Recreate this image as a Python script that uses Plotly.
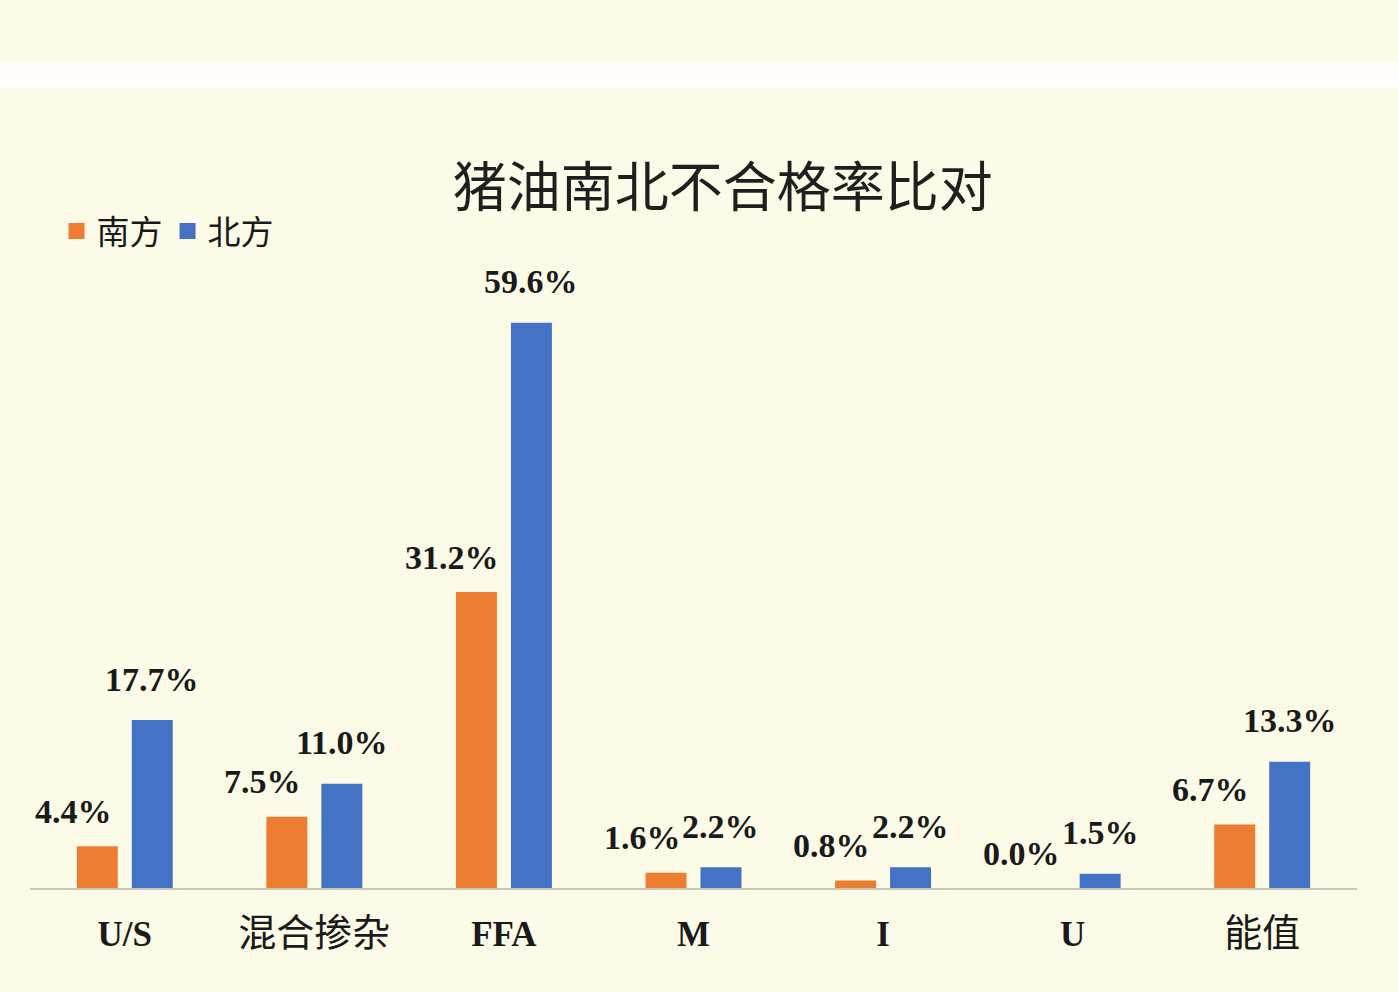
import plotly.graph_objects as go

categories = ["U/S", "混合掺杂", "FFA", "M", "I", "U", "能值"]
tick_labels = ["<b>U/S</b>", "<span style='font-size:38px'>混合掺杂</span>", "<b>FFA</b>",
               "<b>M</b>", "<b>I</b>", "<b>U</b>", "<span style='font-size:38px'>能值</span>"]
south = [4.4, 7.5, 31.2, 1.6, 0.8, 0.0, 6.7]
north = [17.7, 11.0, 59.6, 2.2, 2.2, 1.5, 13.3]
series_names = ["南方", "北方"]

ORANGE = "#ED7D31"
BLUE = "#4472C4"
BG = "#FCFBE8"
LABEL_FONT = "Liberation Serif, Times New Roman, Noto Sans CJK SC"
CJK_FONT = "Noto Sans CJK SC, Liberation Serif"

fig = go.Figure()
fig.add_trace(go.Bar(x=categories, y=south, name=series_names[0], showlegend=False,
                     marker=dict(color=ORANGE, line=dict(width=0))))
fig.add_trace(go.Bar(x=categories, y=north, name=series_names[1], showlegend=False,
                     marker=dict(color=BLUE, line=dict(width=0))))
# legend entries with larger square swatches
for name, col in zip(series_names, (ORANGE, BLUE)):
    fig.add_trace(go.Scatter(x=[None], y=[None], mode="markers", name=name,
                             marker=dict(symbol="square", size=20, color=col)))

# data labels
for vals, xs, ys, offset in ((south, -24, 35, -0.145), (north, 0, 41, 0.145)):
    for i, v in enumerate(vals):
        fig.add_annotation(x=i + offset, y=v, xref="x", yref="y",
                           text=f"<b>{v:.1f}%</b>", showarrow=False,
                           xshift=xs, yshift=ys, yanchor="middle",
                           font=dict(family=LABEL_FONT, size=34, color="#1a1a1a"))

fig.update_layout(
    width=1398, height=992,
    margin=dict(l=30, r=41, t=224, b=104, autoexpand=False),
    paper_bgcolor=BG, plot_bgcolor=BG,
    barmode="group", bargap=0.42, bargroupgap=0.255,
    showlegend=True,
    legend=dict(orientation="h", x=0.02, y=1 - 231 / 992, yref="container",
                yanchor="middle", xanchor="left", itemsizing="trace",
                font=dict(family=CJK_FONT, size=33, color="#1a1a1a"),
                bgcolor="rgba(0,0,0,0)", traceorder="normal"),
    title=dict(text="猪油南北不合格率比对", x=0.517, xanchor="center",
               y=1 - 188 / 992, yanchor="middle", yref="container",
               font=dict(family=CJK_FONT, size=54, color="#1f1f1f")),
    xaxis=dict(type="category", tickmode="array", tickvals=categories,
               ticktext=tick_labels, showgrid=False, showline=True,
               linecolor="#C9C8B8", linewidth=2, ticks="outside", ticklen=14,
               tickcolor="rgba(0,0,0,0)", zeroline=False,
               tickfont=dict(family=LABEL_FONT, size=35, color="#1a1a1a")),
    yaxis=dict(range=[0, 70], visible=False, showgrid=False, zeroline=False),
    shapes=[dict(type="rect", xref="paper", yref="paper", x0=-0.03, x1=1.04,
                 y0=(888 - 88) / 664, y1=(888 - 62) / 664,
                 fillcolor="white", opacity=0.8, line=dict(width=0), layer="below")],
)

fig.write_html("out.html")
